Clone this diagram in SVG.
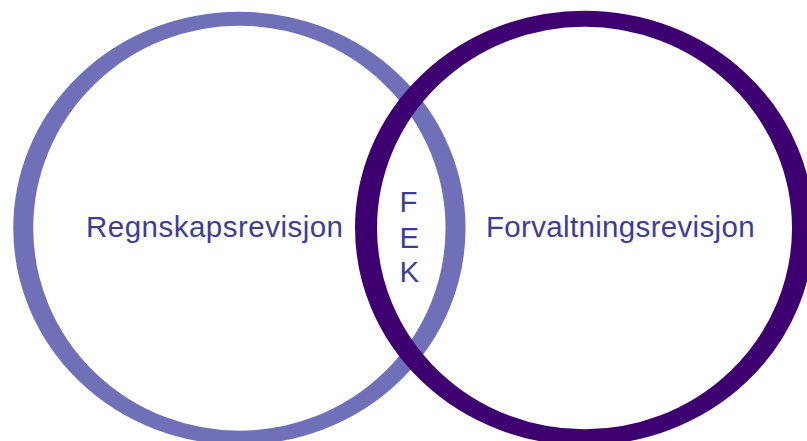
<svg xmlns="http://www.w3.org/2000/svg" width="807" height="441" viewBox="0 0 807 441">
  <style>
    .ring { fill: none; }
    .lbl { font-family: "Liberation Sans", Arial, sans-serif; font-size: 29.5px; fill: #3d3d98; }
  </style>
  <rect width="807" height="441" fill="#ffffff"/>
  <g id="regnskapsrevisjon">
    <ellipse class="ring" transform="translate(239.4 228.2) scale(1.4286 1)" cx="0" cy="0" rx="151.3" ry="209.5" stroke="#7070b9" stroke-width="14"/>
    <text class="lbl" x="86" y="236.7" textLength="257" lengthAdjust="spacing">Regnskapsrevisjon</text>
  </g>
  <g id="forvaltningsrevisjon">
    <ellipse class="ring" transform="translate(584.5 228) scale(1.375 1)" cx="0" cy="0" rx="158.9" ry="209.3" stroke="#3e0070" stroke-width="16"/>
    <text class="lbl" x="486" y="236.7" textLength="268.6" lengthAdjust="spacing">Forvaltningsrevisjon</text>
  </g>
  <g id="fek">
    <text class="lbl" x="399.5" y="211.7">F</text>
    <text class="lbl" x="399.5" y="248">E</text>
    <text class="lbl" x="399.5" y="282">K</text>
  </g>
  <g id="connectors"></g>
</svg>
